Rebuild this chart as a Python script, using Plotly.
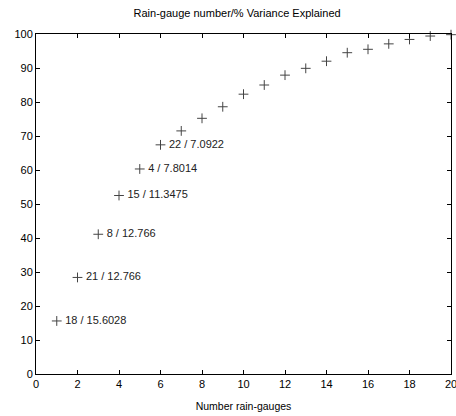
import plotly.graph_objects as go

n_gauges = list(range(1, 21))
cum_variance = [15.6, 28.4, 41.1, 52.5, 60.3, 67.4, 71.5, 75.2, 78.6, 82.3,
                85.0, 87.9, 89.9, 92.0, 94.5, 95.5, 97.1, 98.4, 99.4, 99.8]
gauge_ids = ["18", "21", "8", "15", "4", "22"]
gauge_var = ["15.6028", "12.766", "12.766", "11.3475", "7.8014", "7.0922"]

labels = [" %s / %s" % (g, v) for g, v in zip(gauge_ids, gauge_var)]
labels += [""] * (len(n_gauges) - len(labels))

font = "Liberation Sans, Arial, sans-serif"

fig = go.Figure(go.Scatter(
    x=n_gauges, y=cum_variance, mode="markers+text",
    text=labels, textposition="middle right",
    textfont=dict(family=font, size=11, color="#222"),
    marker=dict(symbol="cross-thin", size=7, line=dict(width=1, color="#444")),
    cliponaxis=False, showlegend=False,
))

axis_common = dict(showline=True, linecolor="black", linewidth=1, mirror="ticks",
                   ticks="inside", ticklen=4, tickcolor="black", showgrid=False,
                   zeroline=False, ticklabeloverflow="allow", automargin=False,
                   tickfont=dict(family=font, size=11, color="#000"))

fig.update_layout(
    width=456, height=416,
    margin=dict(l=36, r=5, t=34, b=42, autoexpand=False),
    paper_bgcolor="white", plot_bgcolor="white",
    title=dict(text="Rain-gauge number/% Variance Explained", x=0.52, xanchor="center",
               y=0.968, yanchor="middle",
               font=dict(family=font, size=11, color="#000")),
    xaxis=dict(range=[0, 20], dtick=2,
               title=dict(text="Number rain-gauges", standoff=13,
                          font=dict(family=font, size=10.5, color="#000")),
               **axis_common),
    yaxis=dict(range=[0, 100], dtick=10, **axis_common),
)

fig.write_html("out.html", config={"displayModeBar": False},
               post_script="document.body.style.margin='0';document.body.style.overflow='hidden';")
